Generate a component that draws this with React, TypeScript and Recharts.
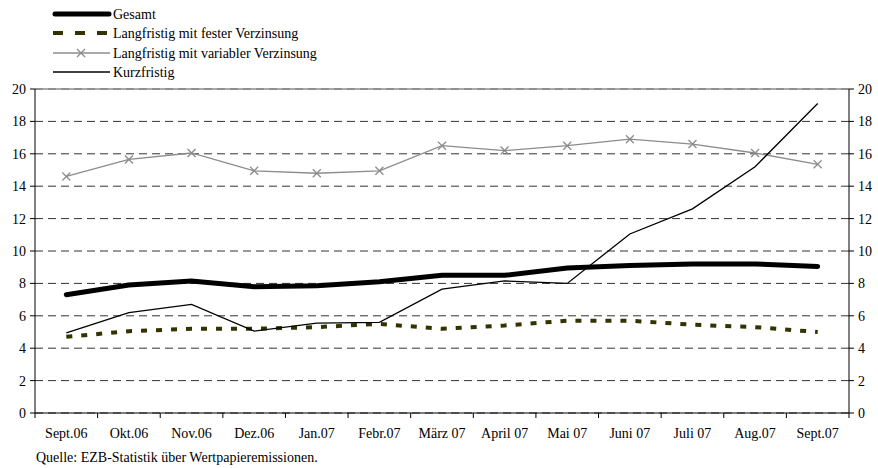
import React from "react";
import {
  LineChart,
  Line,
  XAxis,
  YAxis,
  CartesianGrid,
  ReferenceLine,
} from "recharts";

const months = [
  "Sept.06", "Okt.06", "Nov.06", "Dez.06", "Jan.07", "Febr.07", "März 07",
  "April 07", "Mai 07", "Juni 07", "Juli 07", "Aug.07", "Sept.07",
];
const gesamt = [7.3, 7.9, 8.15, 7.8, 7.85, 8.1, 8.5, 8.5, 8.95, 9.1, 9.2, 9.2, 9.05];
const festVerzinsung = [4.7, 5.05, 5.2, 5.2, 5.3, 5.5, 5.2, 5.4, 5.7, 5.7, 5.45, 5.3, 5.0];
const variableVerzinsung = [14.6, 15.65, 16.05, 14.95, 14.8, 14.95, 16.5, 16.2, 16.5, 16.9, 16.6, 16.05, 15.35];
const kurzfristig = [4.95, 6.2, 6.7, 5.05, 5.55, 5.6, 7.65, 8.15, 8.0, 11.05, 12.6, 15.2, 19.1];
const yTicks = [0, 2, 4, 6, 8, 10, 12, 14, 16, 18, 20];

const data = months.map((m, i) => ({
  month: m,
  gesamt: gesamt[i],
  fest: festVerzinsung[i],
  variabel: variableVerzinsung[i],
  kurz: kurzfristig[i],
}));

const W = 878;
const H = 468;
const M = { top: 89, right: 0, bottom: 25, left: 0 };
const LEFT_W = 35;
const RIGHT_W = 29;
const BAND = (W - LEFT_W - RIGHT_W) / months.length;
const FONT = "'Liberation Serif', 'Times New Roman', serif";
const FS = 14;

const XTick = (props: any) => {
  const { x, y, payload, index } = props;
  return (
    <g>
      <line x1={x - BAND / 2} x2={x - BAND / 2} y1={y} y2={y + 5} stroke="#000" />
      {index === months.length - 1 && (
        <line x1={x + BAND / 2} x2={x + BAND / 2} y1={y} y2={y + 5} stroke="#000" />
      )}
      <text x={x} y={y + 25} textAnchor="middle" fontSize={FS} fontFamily={FONT} fill="#000">
        {payload.value}
      </text>
    </g>
  );
};

const CrossDot = (props: any) => {
  const { cx, cy } = props;
  if (cx == null || cy == null) return null;
  const r = 4;
  return (
    <g stroke="#8c8c8c" strokeWidth={1.3}>
      <line x1={cx - r} y1={cy - r} x2={cx + r} y2={cy + r} />
      <line x1={cx - r} y1={cy + r} x2={cx + r} y2={cy - r} />
    </g>
  );
};

const legendRows = [
  { label: "Gesamt", kind: "gesamt" },
  { label: "Langfristig mit fester Verzinsung", kind: "fest" },
  { label: "Langfristig mit variabler Verzinsung", kind: "variabel" },
  { label: "Kurzfristig", kind: "kurz" },
];

function LegendBox() {
  const rowY = [14, 33, 53, 72];
  return (
    <svg width={420} height={84} style={{ position: "absolute", left: 0, top: 0 }}>
      {legendRows.map((r, i) => {
        const y = rowY[i];
        let sample: React.ReactNode = null;
        if (r.kind === "gesamt") {
          sample = <line x1={55} x2={109} y1={y} y2={y} stroke="#000" strokeWidth={5} strokeLinecap="round" />;
        } else if (r.kind === "fest") {
          sample = <line x1={53} x2={110} y1={y} y2={y} stroke="#333300" strokeWidth={4} strokeDasharray="10 12" />;
        } else if (r.kind === "variabel") {
          sample = (
            <g>
              <line x1={53} x2={110} y1={y} y2={y} stroke="#8c8c8c" strokeWidth={1.3} />
              <CrossDot cx={81} cy={y} />
            </g>
          );
        } else {
          sample = <line x1={53} x2={110} y1={y} y2={y} stroke="#000" strokeWidth={1.3} />;
        }
        return (
          <g key={r.label}>
            {sample}
            <text x={113} y={y + 5} fontSize={FS} fontFamily={FONT} fill="#000">
              {r.label}
            </text>
          </g>
        );
      })}
    </svg>
  );
}

export default function App() {
  const tickStyle = { fontSize: FS, fontFamily: FONT, fill: "#000" };
  return (
    <div style={{ position: "absolute", left: 0, top: 0, width: W, height: H, background: "#fff" }}>
      <LineChart width={W} height={H} data={data} margin={M}>
        <CartesianGrid yAxisId="left" vertical={false} stroke="#333" strokeDasharray="8 5" />
        <ReferenceLine yAxisId="left" y={20} stroke="#8c8c8c" strokeWidth={1.5} />
        <XAxis
          dataKey="month"
          scale="band"
          height={30}
          axisLine={{ stroke: "#000" }}
          tickLine={false}
          tickSize={0}
          tickMargin={0}
          interval={0}
          tick={<XTick />}
        />
        <YAxis
          yAxisId="left"
          width={LEFT_W}
          domain={[0, 20]}
          ticks={yTicks}
          interval={0}
          axisLine={{ stroke: "#000" }}
          tickLine={{ stroke: "#000" }}
          tickSize={5}
          tickMargin={4}
          tick={tickStyle}
        />
        <YAxis
          yAxisId="right"
          orientation="right"
          width={RIGHT_W}
          domain={[0, 20]}
          ticks={yTicks}
          interval={0}
          axisLine={{ stroke: "#000" }}
          tickLine={{ stroke: "#000" }}
          tickSize={5}
          tickMargin={4}
          tick={{ ...tickStyle, textAnchor: "start" }}
        />
        <Line
          yAxisId="left"
          dataKey="variabel"
          stroke="#8c8c8c"
          strokeWidth={1.3}
          dot={<CrossDot />}
          isAnimationActive={false}
        />
        <Line
          yAxisId="left"
          dataKey="fest"
          stroke="#333300"
          strokeWidth={4}
          strokeDasharray="6 9"
          dot={false}
          isAnimationActive={false}
        />
        <Line
          yAxisId="right"
          dataKey="kurz"
          stroke="#000"
          strokeWidth={1.3}
          dot={false}
          isAnimationActive={false}
        />
        <Line
          yAxisId="left"
          dataKey="gesamt"
          stroke="#000"
          strokeWidth={5}
          strokeLinecap="round"
          dot={false}
          isAnimationActive={false}
        />
      </LineChart>
      <LegendBox />
      <div
        style={{
          position: "absolute",
          left: 36,
          top: 449,
          fontSize: FS,
          lineHeight: "18px",
          fontFamily: FONT,
          color: "#000",
          whiteSpace: "nowrap",
        }}
      >
        Quelle: EZB-Statistik über Wertpapieremissionen.
      </div>
    </div>
  );
}
